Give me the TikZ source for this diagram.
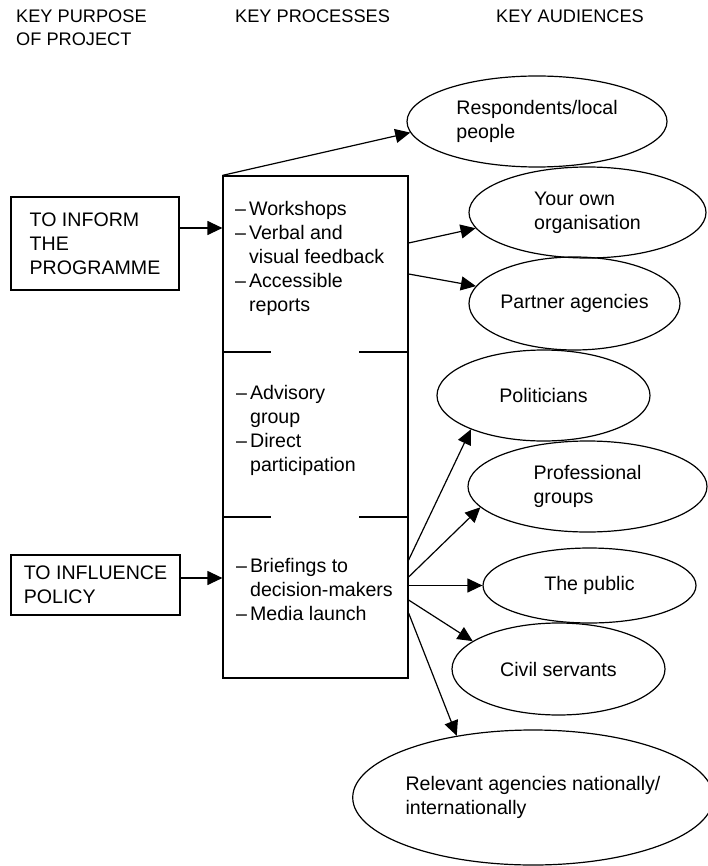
\documentclass[tikz,border=0pt]{standalone}
\usepackage{fontspec}
\setmainfont{Liberation Sans}
\usetikzlibrary{shapes.geometric,arrows.meta}

\newcommand{\itm}{\textendash\hspace{3pt}}
\newcommand{\cnt}{\hphantom{\itm}}

\begin{document}
\begin{tikzpicture}[x=1pt, y=-1pt,
	every node/.style={font=\fontsize{19.6}{24}\selectfont},
	purpose/.style={draw, line width=1.2pt, inner sep=0pt, align=left},
	audience/.style={draw, ellipse, line width=1.2pt, inner sep=0pt, align=center},
	heading/.style={anchor=north west, inner sep=0pt, align=left, font=\fontsize{18.2}{23.3}\selectfont},
	listtext/.style={anchor=north west, inner sep=0pt, align=left},
	arr/.style={-{Triangle[length=15pt,width=14pt]}, line width=1.2pt}]
	\useasboundingbox (0,0) rectangle (707,866);
	
	\node[heading] (hpurpose) at (16,9.7) {KEY PURPOSE\\OF PROJECT};
	\node[heading] (hprocess) at (235,9.7) {KEY PROCESSES};
	\node[heading] (haudience) at (496,9.7) {KEY AUDIENCES};
	
	\node[purpose, minimum width=168pt, minimum height=93pt] (inform) at (95,243.5) {TO INFORM\\THE\\PROGRAMME};
	\node[purpose, minimum width=169pt, minimum height=60pt] (influence) at (95.5,585) {TO INFLUENCE\\POLICY};
	
	\node[draw, line width=1.2pt, minimum width=185pt, minimum height=502pt, inner sep=0pt] (proc) at (315.5,427) {};
	\draw[line width=1.2pt] (proc.west |- 0,352) -- +(49,0);
	\draw[line width=1.2pt] (proc.east |- 0,352) -- +(-50,0);
	\draw[line width=1.2pt] (proc.west |- 0,517) -- +(49,0);
	\draw[line width=1.2pt] (proc.east |- 0,517) -- +(-50,0);
	
	\node[listtext] (workshops) at (235,201) {\itm Workshops\\\itm Verbal and\\\cnt visual feedback\\\itm Accessible\\\cnt reports};
	\node[listtext] (advisory) at (236,385) {\itm Advisory\\\cnt group\\\itm Direct\\\cnt participation};
	\node[listtext] (briefings) at (236,558) {\itm Briefings to\\\cnt decision-makers\\\itm Media launch};
	
	\node[audience, minimum width=260pt, minimum height=91pt, align=left] (resp) at (537,121.5) {Respondents/local\\people};
	\node[audience, minimum width=237pt, minimum height=91pt, align=left] (own) at (587.5,212.5) {Your own\\organisation};
	\node[audience, minimum width=211pt, minimum height=93pt] (partner) at (574.5,303.5) {Partner agencies};
	\node[audience, minimum width=213pt, minimum height=91pt] (politicians) at (543.5,395.5) {Politicians};
	\node[audience, minimum width=239pt, minimum height=91pt, align=left] (professional) at (587.5,486.5) {Professional\\groups};
	\node[audience, minimum width=213pt, minimum height=75pt] (public) at (589.5,585.5) {The public};
	\node[audience, minimum width=213pt, minimum height=92pt] (civil) at (558.5,669) {Civil servants};
	\node[audience, minimum width=344pt, minimum height=135pt, align=left] (agencies) at (533,797.5) {Relevant agencies nationally/\\internationally};
	
	\draw[arr] ([yshift=15.5pt]inform.east) -- ([yshift=15.5pt]inform.east -| proc.west);
	\draw[arr] ([yshift=7pt]influence.east) -- ([yshift=7pt]influence.east -| proc.west);
	
	\draw[arr] (proc.north west) -- (resp.185);
	\draw[arr] ([yshift=184pt]proc.east) -- (own.188);
	\draw[arr] ([yshift=153pt]proc.east) -- (partner.170);
	\draw[arr] ([yshift=-133pt]proc.east) -- (politicians.205);
	\draw[arr] ([yshift=-150pt]proc.east) -- (professional.191);
	\draw[arr] (proc.east |- public.west) -- (public.west);
	\draw[arr] ([yshift=-173pt]proc.east) -- (civil.162);
	\draw[arr] ([yshift=-186pt]proc.east) -- (agencies.141);
\end{tikzpicture}
\end{document}
